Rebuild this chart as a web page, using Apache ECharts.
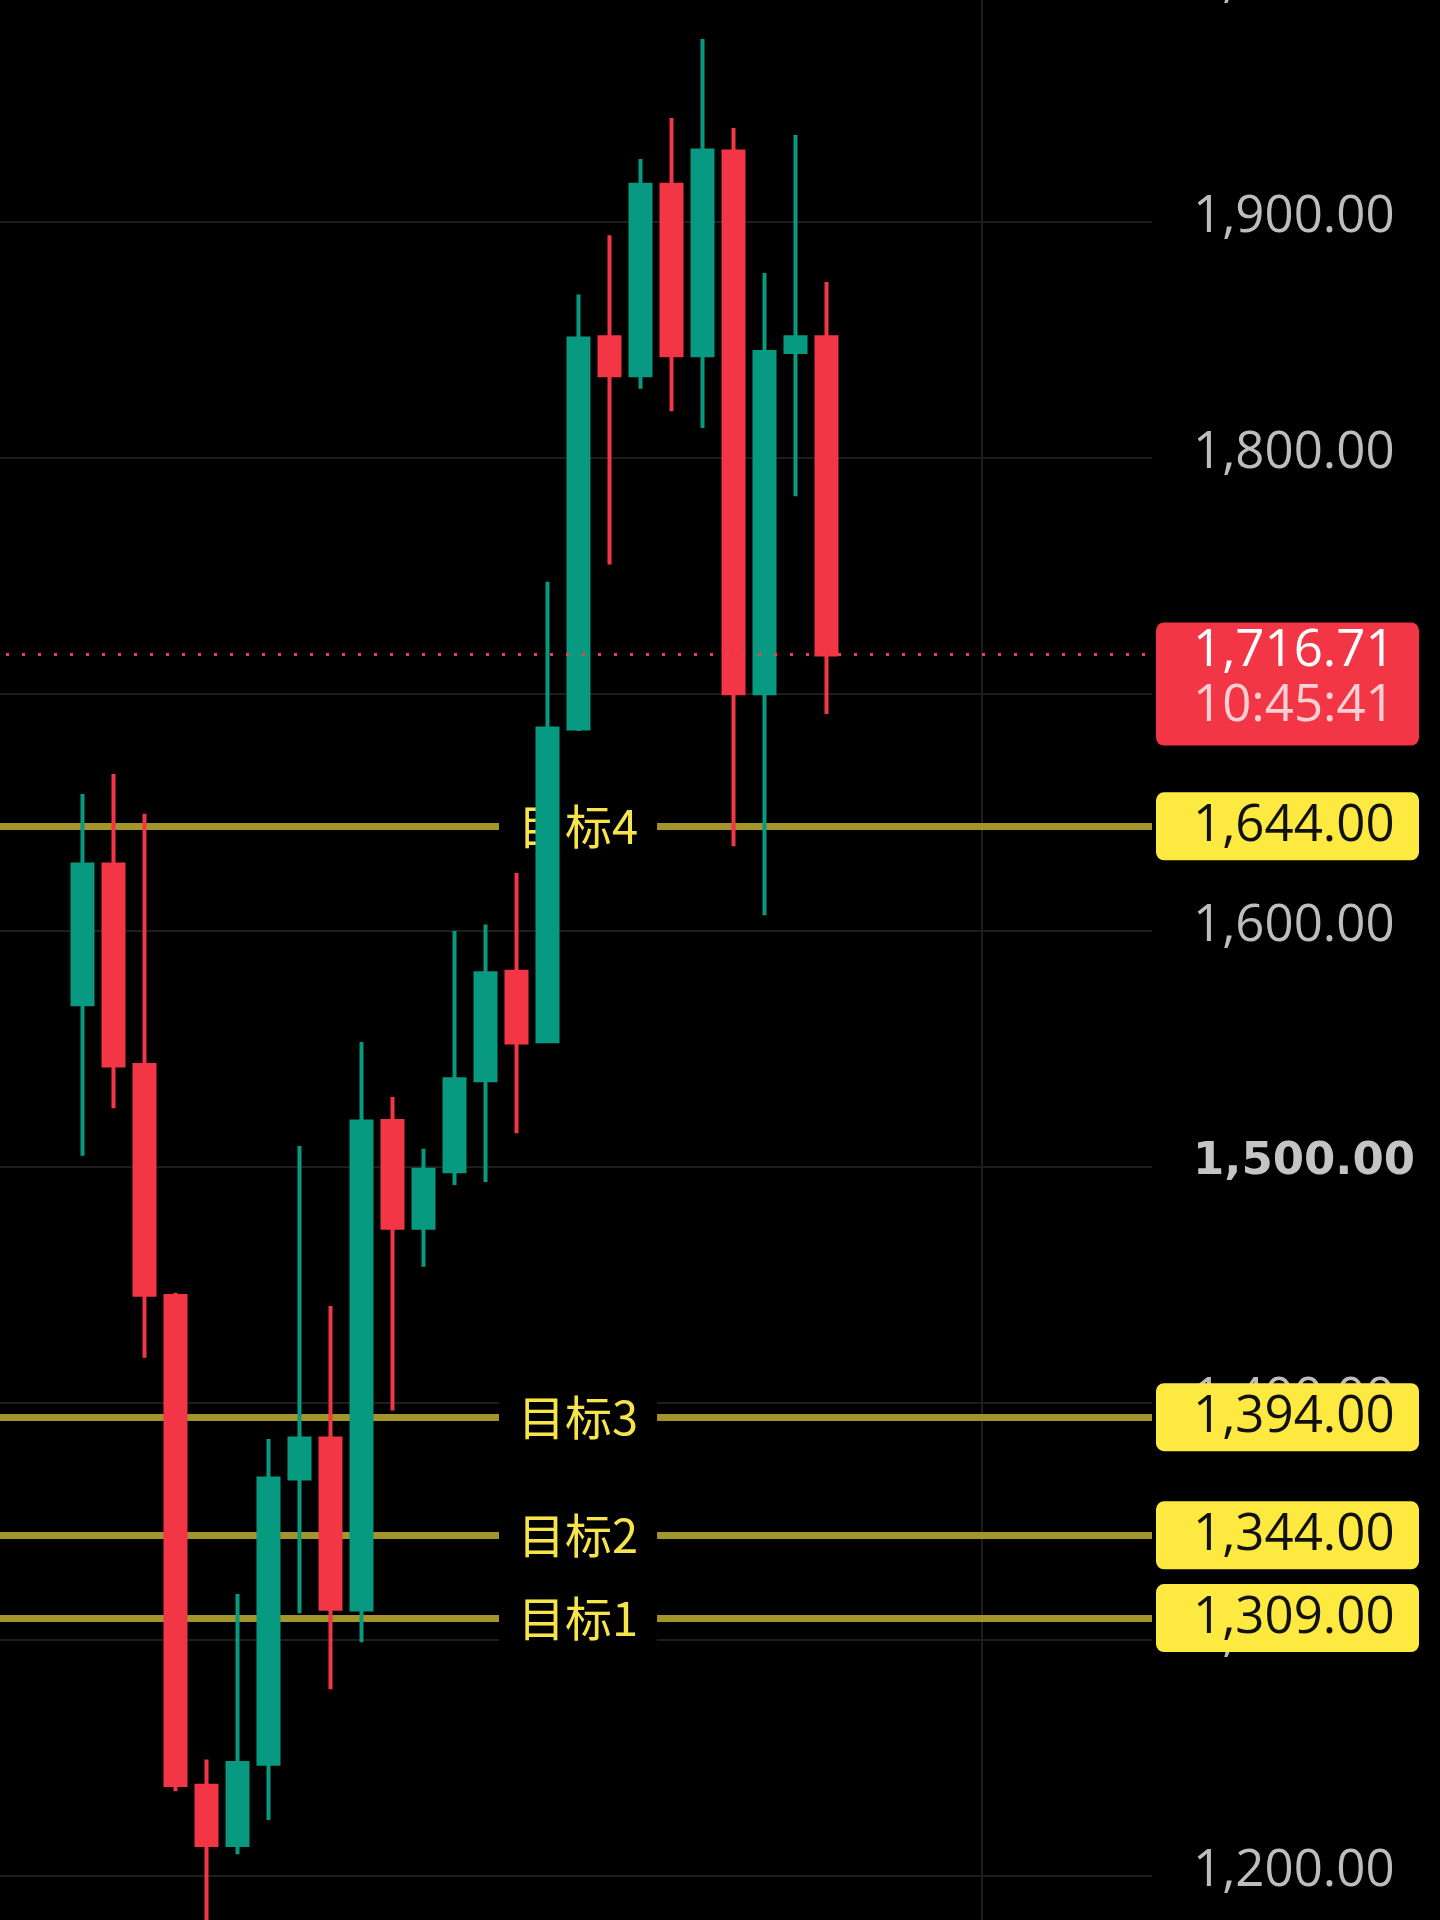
<!DOCTYPE html>
<html>
<head>
<meta charset="utf-8">
<script src="https://cdn.jsdelivr.net/npm/echarts@6/dist/echarts.min.js"></script>
<style>
  html, body { margin: 0; padding: 0; background: #000; }
  #chart { width: 1440px; height: 1920px; }
</style>
</head>
<body>
<div id="chart"></div>
<script>
// ---------------- data ----------------
const candleLabels = ['K1','K2','K3','K4','K5','K6','K7','K8','K9','K10','K11','K12','K13',
                      'K14','K15','K16','K17','K18','K19','K20','K21','K22','K23','K24','K25'];
const opens  = [1568.7,1627.9,1543.0,1445.3,1238.0,1213.0,1247.4,1368.1,1385.0,1312.6,1519.3,1474.2,1498.1,
                1536.6,1582.5,1553.1,1685.4,1851.0,1834.9,1915.5,1843.3,1929.6,1700.3,1844.7,1851.0];
const closes = [1627.9,1542.8,1445.8,1238.4,1213.0,1247.7,1368.1,1385.0,1312.9,1519.1,1474.2,1498.7,1537.0,
                1581.8,1552.5,1685.4,1850.4,1834.9,1915.5,1843.3,1930.0,1700.3,1844.7,1851.0,1716.71];
const lows   = [1504.6,1524.7,1419.1,1235.7,1175.0,1209.1,1223.6,1311.0,1278.9,1298.8,1396.8,1457.7,1492.2,
                1493.5,1514.1,1553.1,1684.3,1754.8,1829.2,1819.6,1812.6,1635.6,1606.4,1783.7,1691.5];
const highs  = [1657.7,1666.2,1649.3,1446.6,1249.2,1319.2,1384.8,1508.7,1441.0,1552.8,1529.5,1507.6,1599.7,
                1602.5,1624.3,1747.5,1869.0,1894.1,1926.4,1943.7,1977.1,1939.5,1878.1,1936.5,1874.3];

const targetValues = [1644, 1394, 1344, 1309];
const targetNames  = ['目标4', '目标3', '目标2', '目标1'];

const yMin = 1100, yMax = 2000, yInterval = 100;
const boldTick = 1500;
const countdown = '10:45:41';

// empty slots before / after the candles on the category axis
const LEAD = 3, TRAIL = 10;
const verticalGridOffset = 4; // vertical grid line sits 4 slots after last candle

// ---------------- build ----------------
const categories = [];
const ohlc = [];
for (let i = 0; i < LEAD; i++) { categories.push('lead' + i); ohlc.push('-'); }
candleLabels.forEach((c, i) => { categories.push(c); ohlc.push([opens[i], closes[i], lows[i], highs[i]]); });
for (let i = 0; i < TRAIL; i++) { categories.push('trail' + i); ohlc.push('-'); }

const lastPrice = closes[closes.length - 1];
const vGridCat = categories[LEAD + candleLabels.length + verticalGridOffset];

const fmt = v => Number(v).toLocaleString('en-US', { minimumFractionDigits: 2, maximumFractionDigits: 2 });

const UP = '#089981', DOWN = '#f23645';
const NUM_FONT = '"Open Sans", "Noto Sans", sans-serif';
const BOLD_FONT = '"DejaVu Sans", "Open Sans", sans-serif';
const NUM_SIZE = 51;
const CJK_FONT = '"Noto Sans CJK SC", "Noto Sans", sans-serif';
const GRID_COLOR = '#1d1d1d';
const TARGET_LINE = '#a3942c';
const TARGET_TEXT = '#f7e44a';
const TARGET_BOX = '#fde93f';

const chart = echarts.init(document.getElementById('chart'), null, { renderer: 'canvas' });

const option = {
  backgroundColor: '#000',
  animation: false,
  grid: { left: -26, right: 288, top: -15, bottom: -192, containLabel: false, outerBoundsMode: 'none' },
  xAxis: {
    type: 'category', data: categories, boundaryGap: true,
    axisLine: { show: false }, axisTick: { show: false }, axisLabel: { show: false },
    splitLine: { show: false }
  },
  yAxis: {
    type: 'value', position: 'right', min: yMin, max: yMax, interval: yInterval,
    axisLine: { show: false }, axisTick: { show: false },
    splitLine: { show: true, lineStyle: { color: GRID_COLOR, width: 2 } },
    axisLabel: {
      margin: 41,
      padding: [0, 0, 8, 0],
      fontSize: NUM_SIZE, fontFamily: NUM_FONT, color: '#bdbdbd',
      formatter: v => (v === boldTick ? '{b|' + fmt(v) + '}' : '{n|' + fmt(v) + '}'),
      rich: {
        n: { fontSize: NUM_SIZE, fontFamily: NUM_FONT, color: '#bdbdbd' },
        b: { fontSize: 45, fontFamily: BOLD_FONT, color: '#c4c4c4', fontWeight: 'bold' }
      }
    }
  },
  series: [
    {
      type: 'line', z: 1, data: [], silent: true,
      markLine: {
        z: 1,
        silent: true, animation: false, symbol: ['none', 'none'],
        lineStyle: { color: TARGET_LINE, width: 7, type: 'solid' },
        label: { show: false },
        emphasis: { disabled: true },
        data: [
          { xAxis: vGridCat, lineStyle: { color: GRID_COLOR, width: 2, type: 'solid' }, label: { show: false } },
          ...targetValues.map((v, i) => ({
            yAxis: v,
            label: {
              show: true, position: 'insideStart', distance: [525, 0],
              formatter: targetNames[i],
              color: TARGET_TEXT, fontFamily: CJK_FONT, fontSize: 47, lineHeight: 52,
              backgroundColor: '#000', padding: [0, 19]
            }
          })),
          ...targetValues.map(v => ({
            yAxis: v,
            lineStyle: { color: 'rgba(0,0,0,0)' },
            label: {
              show: true, position: 'end', distance: [4, 0],
              formatter: fmt(v),
              color: '#111', fontFamily: NUM_FONT, fontSize: NUM_SIZE, lineHeight: 56,
              backgroundColor: TARGET_BOX, borderRadius: 8,
              padding: [3, 0, 9, 37], width: 226
            }
          }))
        ]
      }
    },
    {
      type: 'candlestick', z: 2, data: ohlc, barWidth: 20, silent: true,
      itemStyle: { color: UP, color0: DOWN, borderColor: UP, borderColor0: DOWN, borderWidth: 4 }
    },
    {
      type: 'line', z: 3, data: [], silent: true,
      markLine: {
        silent: true, animation: false, symbol: ['none', 'none'],
        lineStyle: { color: '#e8404f', width: 3, type: [3, 13] },
        label: { show: false },
        data: [{ yAxis: lastPrice }]
      },
      markPoint: {
        silent: true, animation: false,
        symbol: 'rect', symbolSize: 1, itemStyle: { color: 'rgba(0,0,0,0)' },
        label: {
          show: true, position: 'right', distance: 19, offset: [0, 29.5],
          formatter: () => '{p|' + fmt(lastPrice) + '}\n{t|' + countdown + '}',
          backgroundColor: '#f23645', borderRadius: 8,
          padding: [1, 0, 12, 37], width: 226,
          rich: {
            p: { color: '#ffffff', fontSize: NUM_SIZE, fontFamily: NUM_FONT, lineHeight: 55 },
            t: { color: '#fbd0d4', fontSize: NUM_SIZE, fontFamily: NUM_FONT, lineHeight: 55 }
          }
        },
        data: [{ coord: [categories[categories.length - 1], lastPrice] }]
      }
    }
  ]
};

chart.setOption(option);
</script>
</body>
</html>
